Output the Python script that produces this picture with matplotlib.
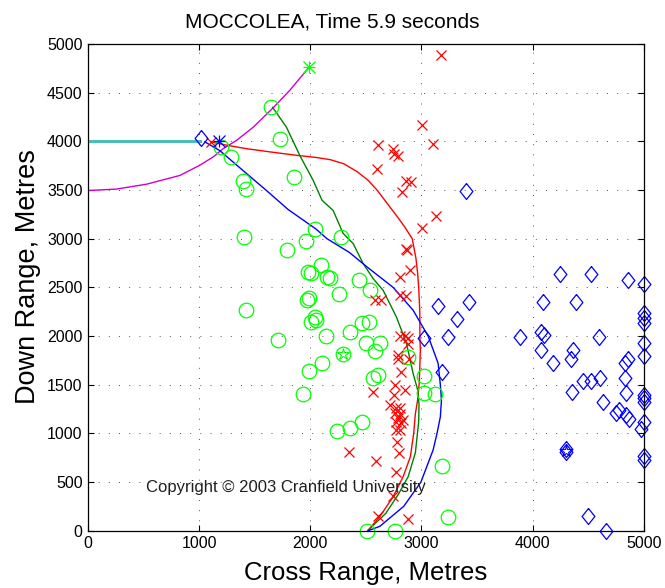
import matplotlib
matplotlib.use('Agg')
from matplotlib import pyplot as plt

plt.rcParams['font.family'] = ['Liberation Sans', 'DejaVu Sans']

# detections: green circles
green_x = [1650, 1725, 1855, 1200, 1290, 1390, 1425, 1405, 2045, 1960, 1790, 2280, 2100, 1975, 2010,
           2150, 2175, 2435, 2535, 2260, 1990, 1970, 1420, 2040, 2005, 2055, 2465, 2525, 2360, 2145,
           1710, 2505, 2625, 2580, 2105, 1985, 2565, 2610, 2880, 3020, 1935, 3020, 3120, 2465, 2355,
           2240, 3185, 3235, 2510, 2760, 2290]
green_y = [4355, 4025, 3635, 3940, 3840, 3595, 3510, 3020, 3100, 2975, 2885, 3015, 2730, 2660, 2645,
           2610, 2600, 2575, 2475, 2435, 2395, 2370, 2270, 2200, 2145, 2160, 2135, 2140, 2045, 2000,
           1955, 1925, 1925, 1845, 1725, 1645, 1565, 1605, 1785, 1590, 1405, 1420, 1405, 1120, 1055,
           1025, 670, 140, 0, 0, 1820]

# red crosses
red_x = [3175, 3005, 3105, 2610, 2745, 2755, 2790, 2600, 2865, 2910, 2825, 3130, 3005, 2860, 2870,
         2895, 2805, 2805, 2865, 2580, 2640, 2805, 2850, 2880, 2875, 2785, 2790, 2890, 2815, 2760,
         2850, 2560, 2750, 2720, 2775, 2810, 2760, 2805, 2790, 2830, 2775, 2820, 2770, 2810, 2780,
         2800, 2350, 2595, 2775, 2745, 2610, 2880, 1110]
red_y = [4885, 4170, 3975, 3965, 3925, 3875, 3850, 3720, 3595, 3580, 3480, 3230, 3110, 2890, 2880,
         2675, 2605, 2425, 2415, 2370, 2375, 2000, 2005, 1980, 1915, 1805, 1760, 1760, 1630, 1500,
         1450, 1425, 1395, 1295, 1265, 1260, 1210, 1195, 1155, 1135, 1115, 1110, 1035, 1035, 915,
         795, 810, 720, 605, 360, 150, 125, 3995]

# blue diamonds
blue_x = [1015, 3400, 3150, 3425, 3320, 3240, 3020, 3185, 4245, 4530, 4855, 5000, 4095, 4390, 5000,
          5000, 5000, 3885, 4075, 4105, 4080, 4600, 5000, 4365, 4345, 4180, 5000, 4860, 4830, 4455,
          4525, 4605, 4355, 4830, 4840, 4630, 4750, 4780, 4845, 4870, 5000, 5000, 5000, 5000, 4980,
          4300, 4305, 5000, 5000, 4500, 4660]
blue_y = [4030, 3490, 2310, 2350, 2180, 1990, 1975, 1630, 2635, 2640, 2580, 2530, 2350, 2350, 2240,
          2190, 2135, 1990, 2045, 2010, 1855, 1990, 1930, 1855, 1760, 1720, 1795, 1760, 1720, 1540,
          1540, 1565, 1425, 1565, 1415, 1320, 1210, 1245, 1190, 1145, 1395, 1360, 1325, 1120, 1050,
          835, 805, 770, 725, 155, 0]

green_target = (2290, 1820)
blue_target = (4300, 820)
own_pos = (1180, 4000)
green_star = (1990, 4765)

# tracks
past_x = [0, 1010]
past_y = [4000, 4000]
turn_x = [0, 255, 525, 825, 1005, 1125, 1215, 1335, 1485, 1665, 1815, 1985]
turn_y = [3495, 3510, 3560, 3650, 3755, 3840, 3925, 4010, 4145, 4345, 4525, 4757]
red_tx = [1110, 1250, 1425, 1650, 1875, 2050, 2180, 2300, 2420, 2520, 2600, 2700, 2780, 2850, 2917,
          2950, 2965, 2975, 2985, 2986, 2990, 2980, 2965, 2945, 2930, 2900, 2835, 2745, 2625, 2520]
red_ty = [3995, 3960, 3925, 3890, 3857, 3835, 3812, 3770, 3690, 3600, 3500, 3350, 3230, 3120, 3000,
          2800, 2650, 2500, 2250, 2000, 1850, 1515, 1340, 1200, 1000, 760, 555, 350, 145, 5]
green_tx = [1660, 1785, 1905, 2025, 2105, 2205, 2295, 2385, 2475, 2565, 2655, 2775, 2865, 2925, 2965,
            2978, 2975, 2945, 2880, 2790, 2680, 2520]
green_ty = [4350, 4145, 3855, 3600, 3395, 3290, 3055, 2950, 2745, 2590, 2470, 2195, 1925, 1615, 1450,
            1300, 1120, 800, 555, 370, 180, 5]
blue_tx = [1050, 1185, 1425, 1600, 1800, 2050, 2150, 2350, 2510, 2745, 2925, 3060, 3150, 3170, 3180,
           3170, 3140, 3105, 2995, 2840, 2625, 2520]
blue_ty = [3995, 3905, 3670, 3500, 3300, 3100, 3000, 2860, 2710, 2500, 2265, 2000, 1720, 1500, 1340,
           1170, 1000, 830, 500, 250, 45, 0]

diamond = [(0, 1), (0.8, 0), (0, -1), (-0.8, 0), (0, 1)]

fig = plt.figure(figsize=(6.65, 5.88), dpi=100)
ax = fig.add_axes([0.1326, 0.0974, 0.8353, 0.8277])

ax.plot(past_x, past_y, color='#4cbcbc', lw=2.2)
ax.plot(turn_x, turn_y, color='#d000d0', lw=1.0)
ax.plot(red_tx, red_ty, color='#ff0000', lw=1.0)
ax.plot(green_tx, green_ty, color='#008000', lw=1.0)
ax.plot(blue_tx, blue_ty, color='#0000ff', lw=1.0)

ax.plot(green_x, green_y, 'o', ms=10.5, mfc='none', mec='#00ff00', mew=0.9, clip_on=False)
ax.plot(red_x, red_y, 'x', ms=6.5, color='#ff0000', mew=0.9, clip_on=False)
ax.plot(blue_x, blue_y, marker=diamond, ls='none', ms=11.5, mfc='none', mec='#0000ff', mew=0.9,
        clip_on=False)

ax.plot(*green_target, '*', ms=9, mfc='none', mec='#00ff00', mew=0.8)
ax.plot(*blue_target, '*', ms=9, mfc='none', mec='#0000ff', mew=0.8)
for m in ['+', 'x']:
    ax.plot(*own_pos, m, ms=8, color='#0000ff', mew=0.9)
    ax.plot(*green_star, m, ms=9, color='#00ff00', mew=0.9)

ax.text(520, 400, 'Copyright \u00a9 2003 Cranfield University', fontsize=12, color='#202020')

ax.set_xlim(0, 5000)
ax.set_ylim(0, 5000)
ax.set_xticks(range(0, 5001, 1000))
ax.set_yticks(range(0, 5001, 500))
ax.tick_params(direction='in', length=4, top=True, right=True, labelsize=11.5, pad=4)
ax.grid(True, color='#404040', lw=0.6, ls=(0, (1.2, 11)))
for s in ax.spines.values():
    s.set_linewidth(0.9)

ax.set_title('MOCCOLEA, Time 5.9 seconds', fontsize=15, pad=12, x=0.439)
ax.set_xlabel('Cross Range, Metres', fontsize=18.5, labelpad=7)
ax.set_ylabel('Down Range, Metres', fontsize=19.5)
ax.yaxis.set_label_coords(-0.085, 0.523)

fig.savefig('out.png', dpi=100)
